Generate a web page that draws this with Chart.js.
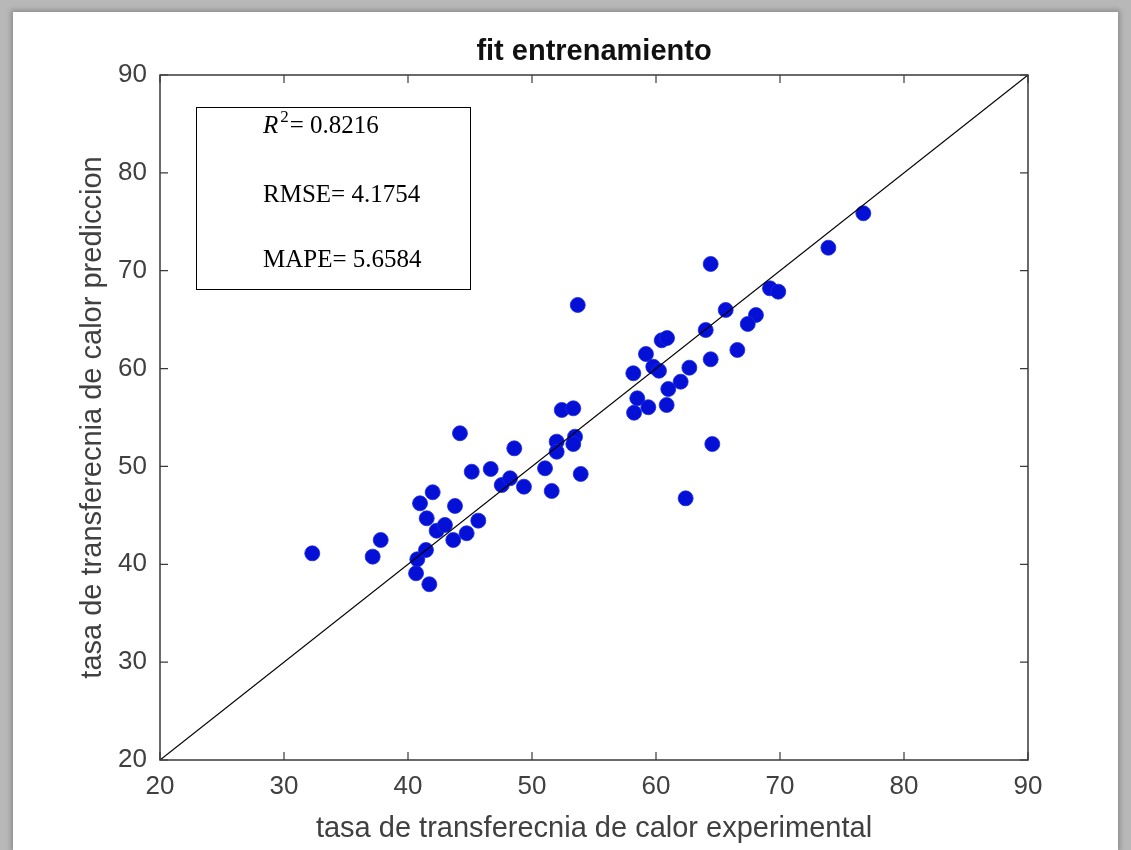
<!DOCTYPE html>
<html>
<head>
<meta charset="utf-8">
<script src="https://cdn.jsdelivr.net/npm/chart.js@4.4.1/dist/chart.umd.min.js"></script>
<style>
  html, body { margin: 0; padding: 0; }
  body { width: 1131px; height: 850px; background: #b8b8b8; overflow: hidden; position: relative; }
  #wrap { position: absolute; left: 13px; top: 12px; width: 1105px; height: 838px; background: #ffffff;
          box-shadow: 0 0 5px 2px #8c8c8c; }
  canvas { display: block; }
</style>
</head>
<body>
<div id="wrap"><canvas id="c" width="1105" height="838"></canvas></div>
<script>
// ---- data ----
const chartTitle = 'fit entrenamiento';
const xAxisTitle = 'tasa de transferecnia de calor experimental';
const yAxisTitle = 'tasa de transferecnia de calor prediccion';
const tickValues = [20, 30, 40, 50, 60, 70, 80, 90];
const experimental = [
  32.28, 37.80, 37.15, 40.65, 40.75, 41.45, 41.72, 40.97, 41.99, 41.51,
  42.31, 42.98, 43.65, 43.79, 44.19, 44.73, 45.67, 45.14, 46.67, 47.56,
  48.23, 48.57, 49.35, 51.05, 51.59, 53.93, 51.99, 53.47, 53.33, 51.99,
  52.40, 53.33, 53.69, 64.41, 73.90, 76.72, 69.19, 69.86, 65.62, 68.06,
  67.40, 64.01, 66.56, 64.41, 60.46, 60.89, 59.19, 58.17, 59.78, 60.24,
  62.69, 61.99, 60.99, 58.49, 58.23, 59.38, 60.86, 64.54, 62.39
];
const predicted = [
  41.12, 42.48, 40.78, 39.08, 40.51, 41.46, 37.96, 46.23, 47.36, 44.70,
  43.43, 44.02, 42.48, 45.96, 53.39, 43.17, 44.46, 49.46, 49.74, 48.10,
  48.79, 51.85, 47.93, 49.81, 47.49, 49.23, 52.53, 53.04, 52.29, 51.50,
  55.77, 55.94, 66.50, 70.69, 72.35, 75.87, 68.20, 67.86, 65.99, 65.47,
  64.56, 63.94, 61.90, 60.95, 62.89, 63.12, 61.49, 59.52, 60.19, 59.78,
  60.09, 58.66, 57.91, 56.96, 55.49, 56.05, 56.28, 52.29, 46.74
];
const refLine = [20, 90];
const statLabels = ['R', 'RMSE', 'MAPE'];
const statValues = ['0.8216', '4.1754', '5.6584'];

const points = experimental.map((x, i) => ({ x: x, y: predicted[i] }));
const linePts = refLine.map(v => ({ x: v, y: v }));

const axisColor = '#3a3a3a';
const labelColor = '#404040';

const framePlugin = {
  id: 'frame',
  afterDraw(chart) {
    const ctx = chart.ctx;
    const a = chart.chartArea;
    const xs = chart.scales.x, ys = chart.scales.y;
    ctx.save();
    // title centred over the axes
    ctx.fillStyle = '#111111';
    ctx.font = 'bold 29px Arial, "Liberation Sans", sans-serif';
    ctx.textAlign = 'center';
    ctx.textBaseline = 'middle';
    ctx.fillText(chartTitle, (a.left + a.right) / 2, a.top - 23);
    // axes box
    ctx.strokeStyle = axisColor;
    ctx.lineWidth = 1.5;
    ctx.strokeRect(a.left, a.top, a.right - a.left, a.bottom - a.top);
    // inward ticks on all sides
    const tl = 8;
    ctx.lineWidth = 1.2;
    ctx.beginPath();
    tickValues.forEach(v => {
      const px = xs.getPixelForValue(v);
      ctx.moveTo(px, a.bottom); ctx.lineTo(px, a.bottom - tl);
      ctx.moveTo(px, a.top); ctx.lineTo(px, a.top + tl);
      const py = ys.getPixelForValue(v);
      ctx.moveTo(a.left, py); ctx.lineTo(a.left + tl, py);
      ctx.moveTo(a.right, py); ctx.lineTo(a.right - tl, py);
    });
    ctx.stroke();
    // statistics box
    const bx = a.left + 36, by = a.top + 32, bw = 274, bh = 182;
    ctx.fillStyle = '#ffffff';
    ctx.fillRect(bx, by, bw, bh);
    ctx.strokeStyle = '#000000';
    ctx.lineWidth = 1;
    ctx.strokeRect(bx + 0.5, by + 0.5, bw, bh);
    ctx.fillStyle = '#000000';
    ctx.textBaseline = 'alphabetic';
    ctx.textAlign = 'left';
    const tx = a.left + 103;
    const fs = 25;
    const fam = '"Liberation Serif", "DejaVu Serif", serif';
    // R^2 line
    let y1 = a.top + 58;
    ctx.font = 'italic ' + fs + 'px ' + fam;
    ctx.fillText(statLabels[0], tx, y1);
    let w = ctx.measureText(statLabels[0]).width;
    ctx.font = '17px ' + fam;
    ctx.fillText('2', tx + w + 2, y1 - 11);
    const w2 = ctx.measureText('2').width;
    ctx.font = fs + 'px ' + fam;
    ctx.fillText('= ' + statValues[0], tx + w + w2 + 3, y1);
    ctx.fillText(statLabels[1] + '= ' + statValues[1], tx, a.top + 126.5);
    ctx.fillText(statLabels[2] + '= ' + statValues[2], tx, a.top + 191.5);
    ctx.restore();
  }
};

new Chart(document.getElementById('c'), {
  type: 'scatter',
  data: {
    datasets: [
      {
        type: 'line',
        label: 'y = x',
        data: linePts,
        borderColor: '#000000',
        borderWidth: 1.2,
        pointRadius: 0,
        fill: false,
        order: 0
      },
      {
        label: 'datos',
        data: points,
        backgroundColor: '#0410d6',
        borderColor: '#1a2ae0',
        borderWidth: 0.8,
        pointRadius: 7.5,
        order: 1
      }
    ]
  },
  options: {
    responsive: false,
    animation: false,
    layout: { padding: { left: 30, right: 90, top: 63, bottom: 0 } },
    plugins: {
      legend: { display: false },
      tooltip: { enabled: false },
      title: { display: false }
    },
    scales: {
      x: {
        type: 'linear',
        min: 20, max: 90,
        afterBuildTicks: s => { s.ticks = tickValues.map(v => ({ value: v })); },
        afterFit: s => { s.height = 90; },
        grid: { display: false, drawTicks: false },
        border: { display: false },
        ticks: {
          color: labelColor, padding: 11,
          font: { family: 'Arial, "Liberation Sans", sans-serif', size: 26 },
          maxRotation: 0
        },
        title: {
          display: true, text: xAxisTitle, color: labelColor,
          font: { family: 'Arial, "Liberation Sans", sans-serif', size: 29, lineHeight: 1.2 },
          padding: { top: 0, bottom: 3.6 }
        }
      },
      y: {
        type: 'linear',
        min: 20, max: 90,
        afterBuildTicks: s => { s.ticks = tickValues.map(v => ({ value: v })); },
        afterFit: s => { s.width = 117; },
        grid: { display: false, drawTicks: false },
        border: { display: false },
        ticks: {
          color: labelColor, padding: 13,
          font: { family: 'Arial, "Liberation Sans", sans-serif', size: 26 }
        },
        title: {
          display: true, text: yAxisTitle, color: labelColor,
          font: { family: 'Arial, "Liberation Sans", sans-serif', size: 29, lineHeight: 1.2 },
          padding: { top: 32.6, bottom: 0 }
        }
      }
    }
  },
  plugins: [framePlugin]
});
</script>
</body>
</html>
